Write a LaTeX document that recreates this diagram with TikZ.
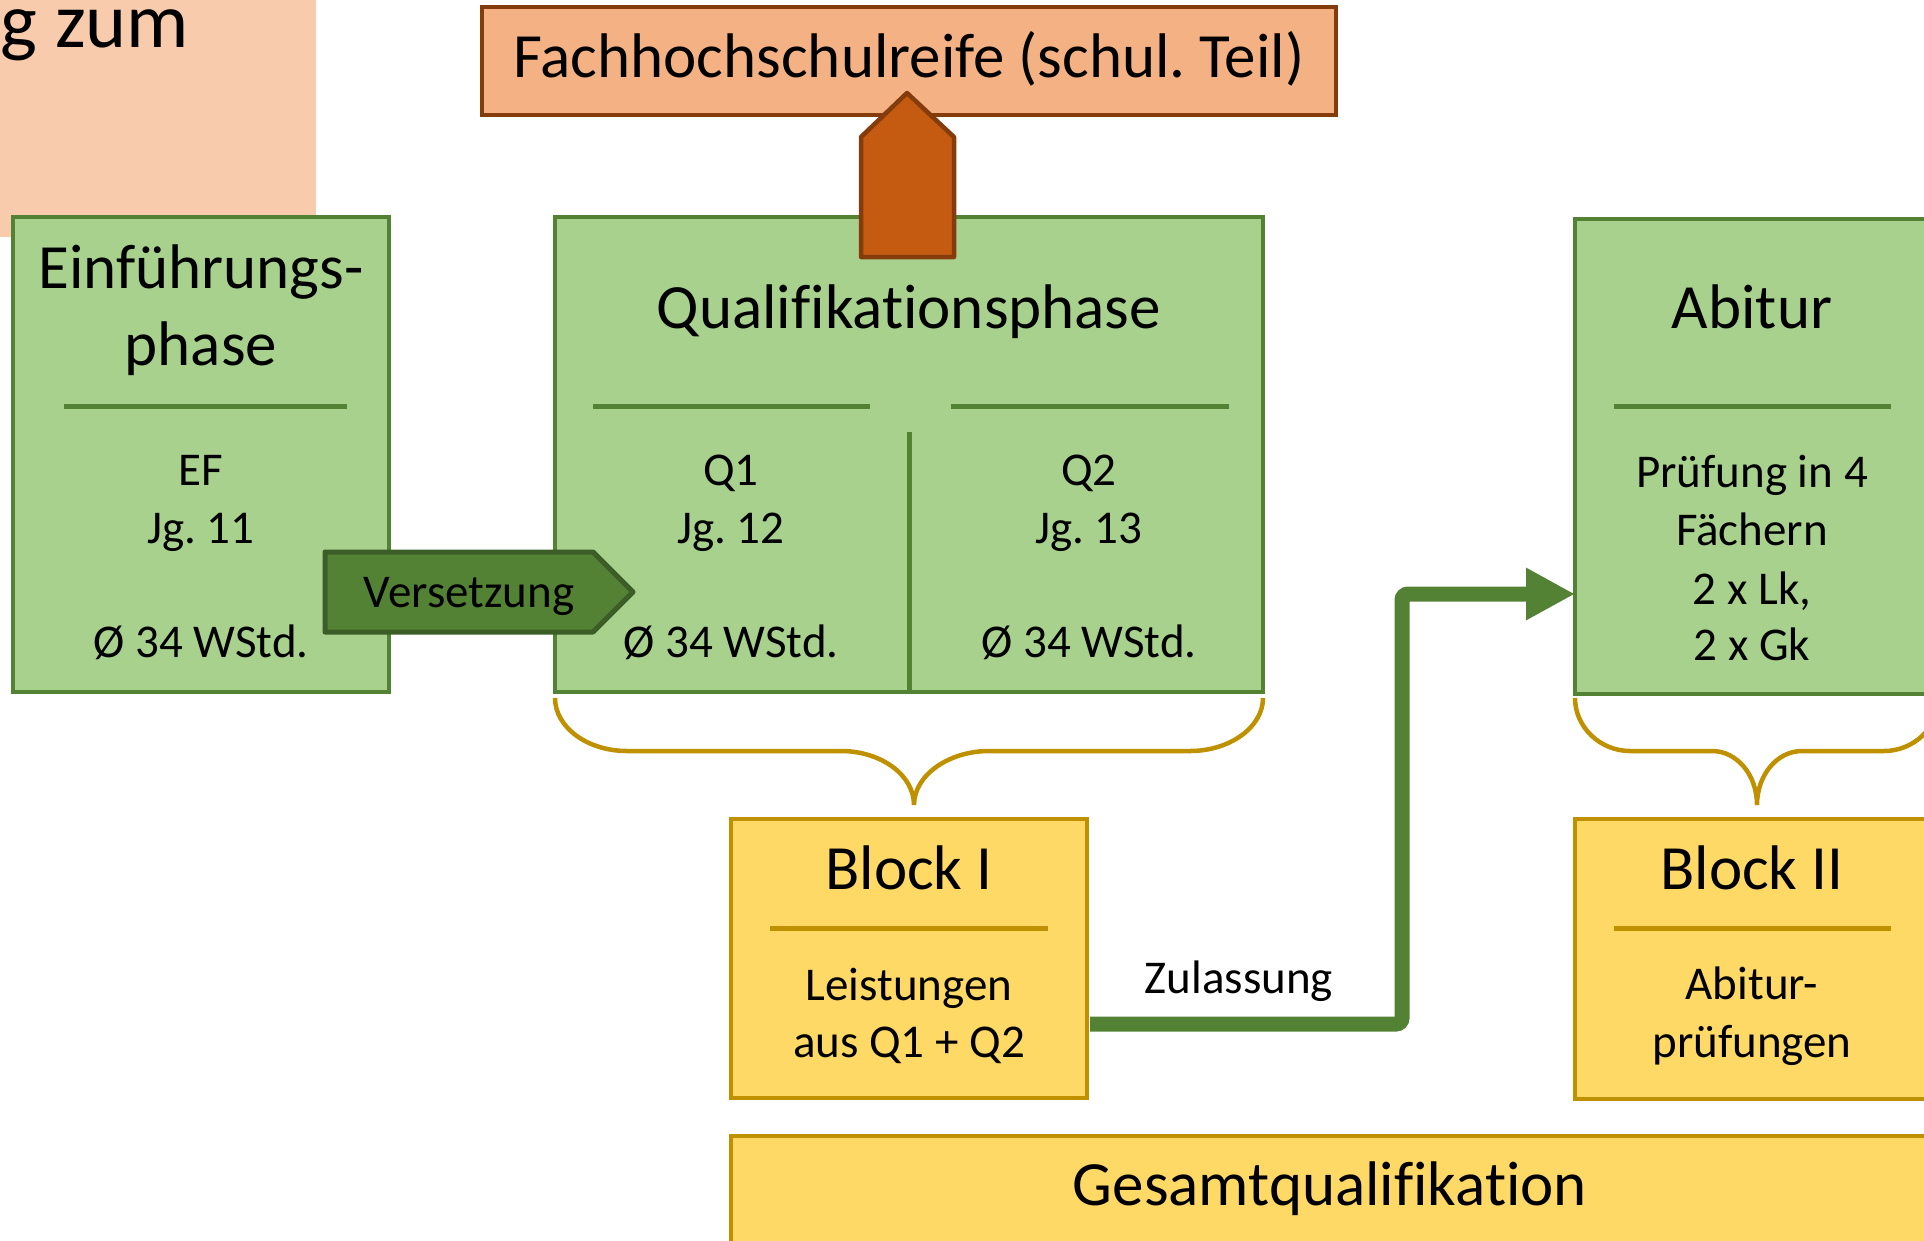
\documentclass[tikz,border=0pt]{standalone}
\usepackage{fontspec}
\setmainfont{Carlito}[Ligatures=NoCommon]
\usetikzlibrary{arrows.meta}
\frenchspacing
\definecolor{gfill}{HTML}{A9D18E}
\definecolor{gline}{HTML}{548235}
\definecolor{gdark}{HTML}{3B5E26}
\definecolor{yfill}{HTML}{FFD966}
\definecolor{yline}{HTML}{BF9000}
\definecolor{ofill}{HTML}{F4B183}
\definecolor{oline}{HTML}{843C0C}
\definecolor{oarrow}{HTML}{C55A11}
\definecolor{salmonbg}{HTML}{F8CBAD}
\tikzset{
 boxbase/.style={rectangle, inner sep=0pt, outer sep=0pt, line width=4.5pt, anchor=north west},
 gbox/.style={boxbase, draw=gline, fill=gfill},
 ybox/.style={boxbase, draw=yline, fill=yfill},
 obox/.style={boxbase, draw=oline, fill=ofill},
 titletxt/.style={font=\fontsize{63}{76}\selectfont, anchor=base, inner sep=0pt},
 bodytxt/.style={font=\fontsize{47}{57}\selectfont, anchor=base, inner sep=0pt},
 gsep/.style={draw=gline, line width=5pt},
 ysep/.style={draw=yline, line width=5pt},
 bracepath/.style={draw=yline, line width=4.5pt},
 zul/.style={draw=gline, line width=15pt, rounded corners=6pt, -{Triangle[length=49pt,width=49pt]}},
 blockarrow/.style={line width=4.5pt, line join=round},
}
\begin{document}
\begin{tikzpicture}[x=1pt,y=-1pt]
\useasboundingbox (0,0) rectangle (1924,1240);
% heading remnant
\fill[salmonbg] (0,0) rectangle (316,237);
\node[font=\fontsize{78}{90}\selectfont, anchor=base east, inner sep=0pt] (head) at (189,47) {g zum};

% Fachhochschulreife
\node[obox, minimum width=854pt, minimum height=108pt] (fhr) at (482,7) {};
\node[titletxt] (fhrtxt) at (909,77) {Fachhochschulreife (schul. Teil)};

% Einfuehrungsphase
\node[gbox, minimum width=376pt, minimum height=475pt] (ef) at (13,217) {};
\node[titletxt] (eft1) at (201,288) {Einführungs-};
\node[titletxt] (eft2) at (201,365) {phase};
\draw[gsep] (64,406) -- (347,406);
\node[bodytxt] (efa) at (201,485) {EF};
\node[bodytxt] (efb) at (201,543) {Jg. 11};
\node[bodytxt] (efc) at (201,657) {Ø 34 WStd.};

% Qualifikationsphase
\node[gbox, minimum width=708pt, minimum height=475pt] (quali) at (555,217) {};
\node[titletxt] (qt) at (909,328) {Qualifikationsphase};
\draw[gsep] (593,406) -- (870,406);
\draw[gsep] (951,406) -- (1229,406);
\draw[gsep] (909,432) -- (quali.south);
\node[bodytxt] (q1a) at (731,485) {Q1};
\node[bodytxt] (q1b) at (731,543) {Jg. 12};
\node[bodytxt] (q1c) at (731,657) {Ø 34 WStd.};
\node[bodytxt] (q2a) at (1089,485) {Q2};
\node[bodytxt] (q2b) at (1089,543) {Jg. 13};
\node[bodytxt] (q2c) at (1089,657) {Ø 34 WStd.};

% up arrow to Fachhochschulreife
\filldraw[blockarrow, fill=oarrow, draw=oline] (861,257) -- (861,137) -- (907,93) -- (954,137) -- (954,257) -- cycle;

% Versetzung arrow
\filldraw[blockarrow, line width=5pt, fill=gline, draw=gdark] (325,552) -- (593,552) -- (633,592) -- (593,632) -- (325,632) -- cycle;
\node[bodytxt] (vers) at (469,607) {Versetzung};

% Abitur
\node[gbox, minimum width=354pt, minimum height=475pt] (abi) at (1575,219) {};
\node[titletxt] (abit) at (1752,328) {Abitur};
\draw[gsep] (1614,406) -- (1891,406);
\node[bodytxt] (abia) at (1752,487) {Prüfung in 4};
\node[bodytxt] (abib) at (1752,545) {Fächern};
\node[bodytxt] (abic) at (1752,604) {2 x Lk,};
\node[bodytxt] (abid) at (1752,660) {2 x Gk};

% braces
\draw[bracepath] (555,698) .. controls (555,727) and (587,751) .. (627,751) -- (841,751)
  .. controls (881,751) and (914,775) .. (914,805)
  .. controls (914,775) and (949,751) .. (989,751) -- (1190,751)
  .. controls (1230,751) and (1263,727) .. (1263,698);
\draw[bracepath] (1575,698) .. controls (1575,727) and (1600,751) .. (1630,751) -- (1712,751)
  .. controls (1737,751) and (1757,775) .. (1757,805)
  .. controls (1757,775) and (1777,751) .. (1802,751) -- (1884,751)
  .. controls (1914,751) and (1939,727) .. (1939,698);

% Block I
\node[ybox, minimum width=356pt, minimum height=279pt] (b1) at (731,819) {};
\node[titletxt] (b1t) at (909,889) {Block I};
\draw[ysep] (770,928) -- (1048,928);
\node[bodytxt] (b1a) at (909,1000) {Leistungen};
\node[bodytxt] (b1b) at (909,1057) {aus Q1 + Q2};

% Block II
\node[ybox, minimum width=354pt, minimum height=280pt] (b2) at (1575,819) {};
\node[titletxt] (b2t) at (1752,889) {Block II};
\draw[ysep] (1614,928) -- (1891,928);
\node[bodytxt] (b2a) at (1752,999) {Abitur-};
\node[bodytxt] (b2b) at (1752,1057) {prüfungen};

% Gesamtqualifikation
\node[ybox, minimum width=1200pt, minimum height=140pt] (ges) at (731,1136) {};
\node[titletxt] (gest) at (1330,1205) {Gesamtqualifikation};

% Zulassung connector
\coordinate (z0) at (1090,1024);
\coordinate (z1) at (1402,1024);
\coordinate (z2) at (1402,594);
\draw[zul] (z0) -- (z1) -- (z2) -- (abi.west |- z2);
\node[bodytxt] (zultxt) at (1239,993) {Zulassung};
\end{tikzpicture}
\end{document}
